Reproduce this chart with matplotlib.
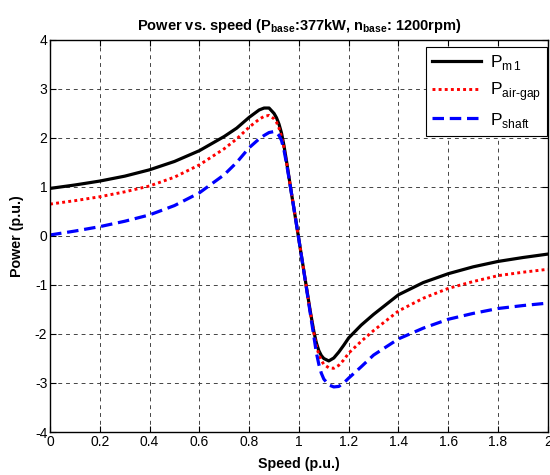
import numpy as np
import matplotlib
matplotlib.use('Agg')
import matplotlib.pyplot as plt

plt.rcParams['font.family'] = ['Liberation Sans', 'DejaVu Sans']
plt.rcParams['mathtext.fontset'] = 'custom'
plt.rcParams['mathtext.rm'] = 'Liberation Sans'
plt.rcParams['mathtext.bf'] = 'Liberation Sans:bold'
plt.rcParams['axes.unicode_minus'] = False

# speed (p.u.) and power curves (p.u.)
speed = [0, 0.1, 0.2, 0.3, 0.4, 0.5, 0.6, 0.7, 0.75, 0.8, 0.84, 0.86, 0.88, 0.9, 0.91, 0.92,
         0.93, 0.94, 0.95, 0.96, 0.97, 0.985, 1.0, 1.015, 1.03, 1.045, 1.06, 1.07, 1.08,
         1.09, 1.1, 1.12, 1.14, 1.16, 1.18, 1.2, 1.25, 1.3, 1.4, 1.5, 1.6, 1.7, 1.8, 1.9, 2.0]
p_m1 = [0.97, 1.04, 1.12, 1.22, 1.35, 1.52, 1.74, 2.03, 2.2, 2.42, 2.57, 2.61, 2.61, 2.5, 2.41, 2.28,
        2.1, 1.84, 1.53, 1.2, 0.87, 0.4, -0.08, -0.56, -1.04, -1.52, -1.95, -2.18, -2.34,
        -2.44, -2.5, -2.55, -2.49, -2.37, -2.23, -2.08, -1.82, -1.6, -1.2, -0.95, -0.77,
        -0.63, -0.52, -0.44, -0.37]
p_airgap = [0.65, 0.72, 0.8, 0.9, 1.02, 1.2, 1.45, 1.78, 1.98, 2.22, 2.38, 2.44, 2.46, 2.39, 2.32, 2.2,
            2.03, 1.8, 1.5, 1.19, 0.87, 0.4, -0.08, -0.56, -1.04, -1.53, -1.98, -2.24, -2.42,
            -2.54, -2.62, -2.69, -2.7, -2.64, -2.53, -2.39, -2.15, -1.93, -1.53, -1.27, -1.07,
            -0.93, -0.81, -0.74, -0.68]
p_shaft = [0.02, 0.1, 0.19, 0.3, 0.43, 0.62, 0.88, 1.25, 1.5, 1.8, 1.98, 2.05, 2.11, 2.13, 2.11, 2.05,
           1.95, 1.75, 1.48, 1.18, 0.87, 0.4, -0.08, -0.57, -1.06, -1.56, -2.05, -2.38, -2.62,
           -2.8, -2.92, -3.04, -3.08, -3.07, -3.0, -2.9, -2.67, -2.43, -2.1, -1.88, -1.7,
           -1.58, -1.48, -1.42, -1.37]

fig = plt.figure(figsize=(5.5, 4.75), dpi=100)
ax = fig.add_axes([0.091, 0.0905, 0.905, 0.8255])

ax.plot(speed, p_m1, color='k', lw=2.3, label=r'P$_{\mathrm{m\,1}}$')
ax.plot(speed, p_airgap, color='r', lw=2.1, ls=(0, (1, 1.1)), label=r'P$_{\text{air-gap}}$')
ax.plot(speed, p_shaft, color='b', lw=2.3, ls=(0, (3.6, 1.8)), label=r'P$_{\mathrm{shaft}}$')

ax.set_xlim(0, 2)
ax.set_ylim(-4, 4)
ax.set_xticks(np.arange(0, 2.01, 0.2))
ax.set_xticklabels(['0', '0.2', '0.4', '0.6', '0.8', '1', '1.2', '1.4', '1.6', '1.8', '2'])
ax.set_yticks(range(-4, 5))
ax.tick_params(direction='in', top=True, right=True, labelsize=10, length=4, pad=2)
ax.grid(True, color='#444444', ls=(0, (4, 4)), lw=0.7)
for sp in ax.spines.values():
    sp.set_linewidth(1.0)

ax.set_xlabel('Speed (p.u.)', fontweight='bold', fontsize=10.3, labelpad=6)
ax.set_ylabel('Power (p.u.)', fontweight='bold', fontsize=10.3, labelpad=8)
ax.set_title(r'Power vs. speed (P$_{\mathbf{base}}$:377kW, n$_{\mathbf{base}}$: 1200rpm)',
             fontweight='bold', fontsize=10.5, pad=7)

leg = ax.legend(loc='upper right', bbox_to_anchor=(0.998, 0.982), fontsize=12.5,
                handlelength=2.8, fancybox=False, framealpha=1, edgecolor='k',
                borderaxespad=0, labelspacing=0.45, handletextpad=0.5, borderpad=0.35)
leg.get_frame().set_linewidth(0.8)

fig.savefig('out.png', dpi=100)
